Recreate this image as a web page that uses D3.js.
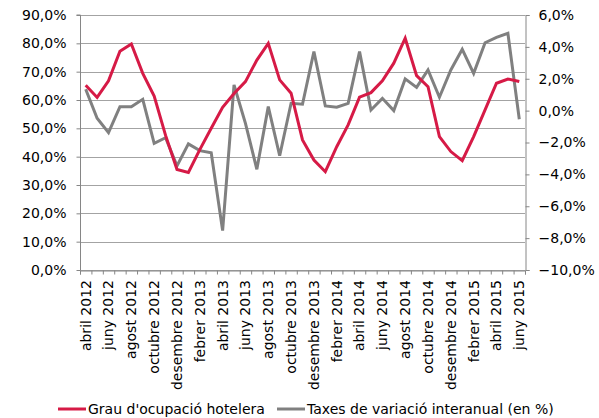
<!DOCTYPE html>
<html>
<head>
<meta charset="utf-8">
<script src="https://cdn.jsdelivr.net/npm/d3@7"></script>
<style>
  body { margin: 0; background: #fff; }
  svg text { font-family: "DejaVu Sans", Verdana, sans-serif; fill: #000; }
</style>
</head>
<body>
<div id="chart"></div>
<script>
// Mesos (abril 2012 - juny 2015)
const months = [
  "abril 2012", "maig 2012", "juny 2012", "juliol 2012", "agost 2012", "setembre 2012",
  "octubre 2012", "novembre 2012", "desembre 2012", "gener 2013", "febrer 2013", "març 2013",
  "abril 2013", "maig 2013", "juny 2013", "juliol 2013", "agost 2013", "setembre 2013",
  "octubre 2013", "novembre 2013", "desembre 2013", "gener 2014", "febrer 2014", "març 2014",
  "abril 2014", "maig 2014", "juny 2014", "juliol 2014", "agost 2014", "setembre 2014",
  "octubre 2014", "novembre 2014", "desembre 2014", "gener 2015", "febrer 2015", "març 2015",
  "abril 2015", "maig 2015", "juny 2015"
];

// Grau d'ocupació hotelera (%), eix esquerre
const ocupacio = [
  65.2, 60.9, 66.8, 77.2, 79.8, 69.4, 61.4, 47.5, 35.5, 34.4,
  42.5, 50.0, 57.4, 62.3, 66.5, 74.1, 80.0, 67.1, 62.4, 45.9,
  38.8, 34.7, 43.5, 51.2, 61.0, 62.6, 66.8, 73.0, 81.8, 68.6,
  64.7, 47.1, 41.8, 38.6, 47.1, 56.5, 65.9, 67.4, 66.5
];

// Taxes de variació interanual (%), eix dret
const variacio = [
  1.34, -0.48, -1.38, 0.25, 0.25, 0.71, -2.05, -1.70, -3.47, -2.09,
  -2.51, -2.64, -7.53, 1.61, -0.80, -3.68, 0.25, -2.83, 0.46, 0.40,
  3.70, 0.29, 0.21, 0.46, 3.70, 0.04, 0.77, 0.00, 1.99, 1.46,
  2.55, 0.84, 2.55, 3.85, 2.34, 4.26, 4.60, 4.85, -0.54
];

const leftTicks = [0, 10, 20, 30, 40, 50, 60, 70, 80, 90];
const rightTicks = [-10, -8, -6, -4, -2, 0, 2, 4, 6];
const seriesNames = ["Grau d'ocupació hotelera", "Taxes de variació interanual (en %)"];

const width = 599;
const height = 418;
const margin = { top: 15, right: 74, bottom: 148, left: 80 };
const red = "#d61a46";
const grey = "#808080";
const fontSize = "14px";
const fmt = v => d3.format(".1f")(v).replace(".", ",") + "%";

const svg = d3.select("#chart")
  .append("svg")
  .attr("width", width)
  .attr("height", height);

const x = d3.scaleBand()
  .domain(months)
  .range([margin.left, width - margin.right])
  .padding(0);

const xEdge = d3.scaleLinear()
  .domain([0, months.length])
  .range([margin.left, width - margin.right]);

const yL = d3.scaleLinear()
  .domain([0, 90])
  .range([height - margin.bottom, margin.top]);

const yR = d3.scaleLinear()
  .domain([-10, 6])
  .range([height - margin.bottom, margin.top]);

// gridlines
svg.append("g")
  .selectAll("line")
  .data(leftTicks)
  .join("line")
  .attr("x1", margin.left)
  .attr("x2", width - margin.right)
  .attr("y1", d => Math.round(yL(d)) + 0.5)
  .attr("y2", d => Math.round(yL(d)) + 0.5)
  .attr("stroke", "#a3a3a3")
  .attr("stroke-width", 1);

// left axis
const gL = svg.append("g")
  .attr("transform", `translate(${margin.left + 0.5},0)`)
  .call(d3.axisLeft(yL).tickValues(leftTicks).tickFormat(fmt).tickSize(4).tickPadding(10));

// right axis
const gR = svg.append("g")
  .attr("transform", `translate(${width - margin.right + 0.5},0)`)
  .call(d3.axisRight(yR).tickValues(rightTicks).tickFormat(fmt).tickSize(4).tickPadding(9));

// x axis ticks at month boundaries
const gX = svg.append("g")
  .attr("transform", `translate(0,${height - margin.bottom + 0.5})`)
  .call(d3.axisBottom(xEdge).tickValues(d3.range(months.length + 1)).tickFormat("").tickSize(4));

// x labels every two months
const gXL = svg.append("g")
  .attr("transform", `translate(0,${height - margin.bottom})`)
  .call(d3.axisBottom(x).tickValues(months.filter((d, i) => i % 2 === 0)).tickSize(0));
gXL.select(".domain").remove();
gXL.selectAll("text")
  .attr("transform", "rotate(-90)")
  .attr("x", -10)
  .attr("y", 0)
  .attr("dy", "0.35em")
  .attr("text-anchor", "end");

[gL, gR, gX].forEach(g => {
  g.select(".domain").attr("stroke", "#868686");
  g.selectAll(".tick line").attr("stroke", "#868686");
});
[gL, gR, gXL].forEach(g => {
  g.selectAll("text").style("font-size", fontSize).attr("fill", "#000");
});
gL.select(".domain").attr("d", `M-4,${yL(90)}H0V${yL(0)}`);

// lines
const lineL = d3.line()
  .x((d, i) => x(months[i]) + x.bandwidth() / 2)
  .y(d => yL(d));

const lineR = d3.line()
  .x((d, i) => x(months[i]) + x.bandwidth() / 2)
  .y(d => yR(d));

svg.append("path")
  .datum(variacio)
  .attr("fill", "none")
  .attr("stroke", grey)
  .attr("stroke-width", 3)
  .attr("d", lineR);

svg.append("path")
  .datum(ocupacio)
  .attr("fill", "none")
  .attr("stroke", red)
  .attr("stroke-width", 3)
  .attr("d", lineL);

// legend
const legendY = 409;
const legendItems = [
  { name: seriesNames[0], color: red, x: 58 },
  { name: seriesNames[1], color: grey, x: 277 }
];
const lg = svg.append("g")
  .selectAll("g")
  .data(legendItems)
  .join("g")
  .attr("transform", d => `translate(${d.x},${legendY})`);
lg.append("line")
  .attr("x1", 0).attr("x2", 28)
  .attr("stroke", d => d.color)
  .attr("stroke-width", 3);
lg.append("text")
  .attr("x", 30)
  .attr("dy", "0.35em")
  .style("font-size", fontSize)
  .text(d => d.name);
</script>
</body>
</html>
